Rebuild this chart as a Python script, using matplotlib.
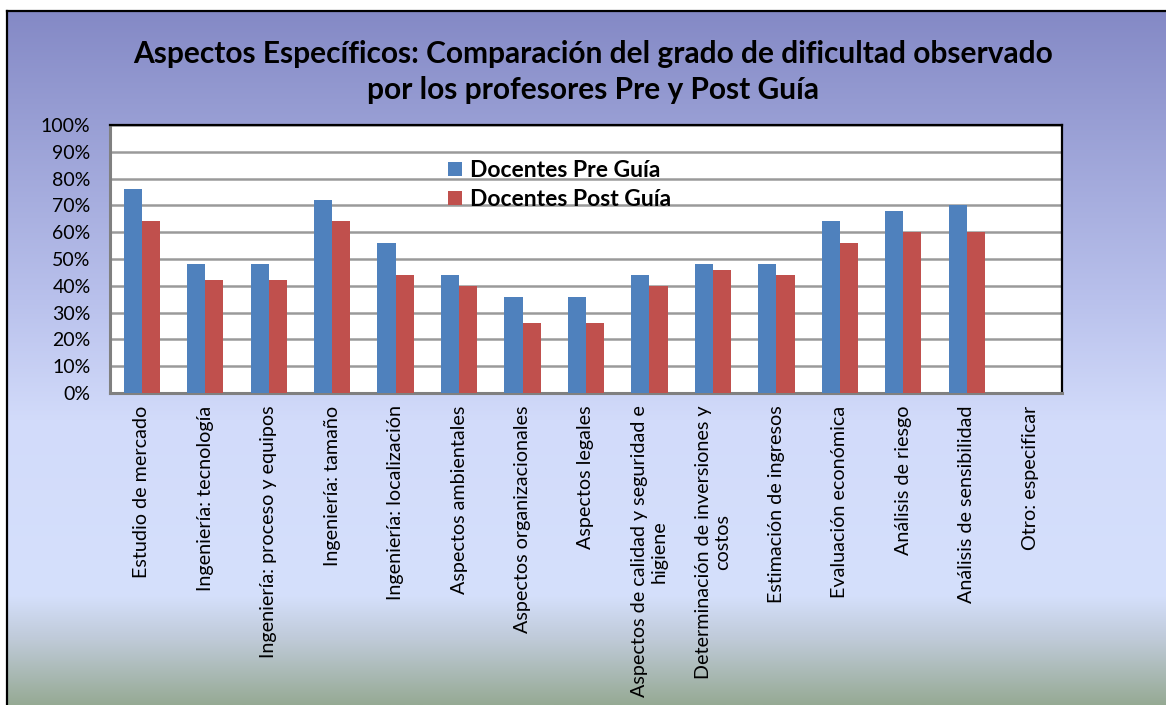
import numpy as np
import matplotlib
matplotlib.use("Agg")
import matplotlib.pyplot as plt
from matplotlib.colors import to_rgb
from matplotlib.lines import Line2D

categories = [
    "Estudio de mercado",
    "Ingeniería: tecnología",
    "Ingeniería: proceso y equipos",
    "Ingeniería: tamaño",
    "Ingeniería: localización",
    "Aspectos ambientales",
    "Aspectos organizacionales",
    "Aspectos legales",
    "Aspectos de calidad y seguridad e\nhigiene",
    "Determinación de inversiones y\ncostos",
    "Estimación de ingresos",
    "Evaluación económica",
    "Análisis de riesgo",
    "Análisis de sensibilidad",
    "Otro: especificar",
]
pre_guia = [76, 48, 48, 72, 56, 44, 36, 36, 44, 48, 48, 64, 68, 70, 0]
post_guia = [64, 42, 42, 64, 44, 40, 26, 26, 40, 46, 44, 56, 60, 60, 0]
series_names = ["Docentes Pre Guía", "Docentes Post Guía"]
yticks = [0, 10, 20, 30, 40, 50, 60, 70, 80, 90, 100]

W, H = 1166, 705
fig = plt.figure(figsize=(W / 100, H / 100), dpi=100)
fig.patch.set_facecolor("white")

# gradient background
stops = [(0, "#8287C4"), (300, "#B9C1EC"), (420, "#D2DBFA"), (595, "#D5E0FC"),
         (640, "#BFCAD8"), (705, "#96AA94")]
ys = np.arange(11, H + 1)
sy = [s[0] for s in stops]
cols = np.array([to_rgb(s[1]) for s in stops])
grad = np.stack([np.interp(ys, sy, cols[:, i]) for i in range(3)], axis=1)
img = grad[:, None, :]
bg = fig.add_axes([7 / W, 0, 1 - 7 / W, 1 - 11 / H])
bg.imshow(img, aspect="auto", extent=[0, 1, 0, 1], origin="upper")
bg.set_xlim(0, 1)
bg.set_ylim(0, 1)
bg.axis("off")
fig.add_artist(Line2D([7 / W, 1], [1 - 11 / H, 1 - 11 / H], color="black", lw=1.6,
                      transform=fig.transFigure))
fig.add_artist(Line2D([7 / W, 7 / W], [0, 1 - 11 / H], color="black", lw=1.6,
                      transform=fig.transFigure))

font = "Lato"
left, right, top, bottom = 110, 1062, 125, 393
ax = fig.add_axes([left / W, 1 - bottom / H, (right - left) / W, (bottom - top) / H])
ax.set_facecolor("white")

x = np.arange(len(categories))
bw = 1 / 3.5
ax.bar(x - bw / 2, pre_guia, width=bw, color="#4F81BD", zorder=3, label=series_names[0])
ax.bar(x + bw / 2, post_guia, width=bw, color="#C0504D", zorder=3, label=series_names[1])

ax.set_xlim(-0.5, len(categories) - 0.5)
ax.set_ylim(0, 100)
ax.set_yticks(yticks)
ax.set_yticklabels([f"{v}%" for v in yticks], fontsize=14, family=font)
ax.yaxis.grid(True, color="#9A9A9A", lw=1.8, zorder=1)
ax.set_axisbelow(True)
ax.tick_params(axis="y", length=0, pad=14)
ax.tick_params(axis="x", length=0, pad=9)
ax.set_xticks(x)
ax.set_xticklabels(categories, rotation=90, fontsize=14.2, family=font,
                   va="top", ha="center", multialignment="center")
for s in ["top", "right"]:
    ax.spines[s].set_color("black")
    ax.spines[s].set_linewidth(1.6)
for s in ["left", "bottom"]:
    ax.spines[s].set_color("#808080")
    ax.spines[s].set_linewidth(2.2)

leg = ax.legend(loc="upper left", bbox_to_anchor=((448 - left) / (right - left), 1 - (160 - top) / (bottom - top)),
                frameon=False, prop={"family": font, "weight": "bold", "size": 16.5},
                handlelength=0.6, handleheight=0.6, handletextpad=0.35,
                labelspacing=0.35, borderaxespad=0, borderpad=0)

fig.text(593 / W, 1 - 72 / H,
         "Aspectos Específicos: Comparación del grado de dificultad observado\npor los profesores Pre y Post Guía",
         ha="center", va="center", fontsize=21.5, fontweight="bold", family=font,
         linespacing=1.35)

fig.savefig("out.png", dpi=100)
